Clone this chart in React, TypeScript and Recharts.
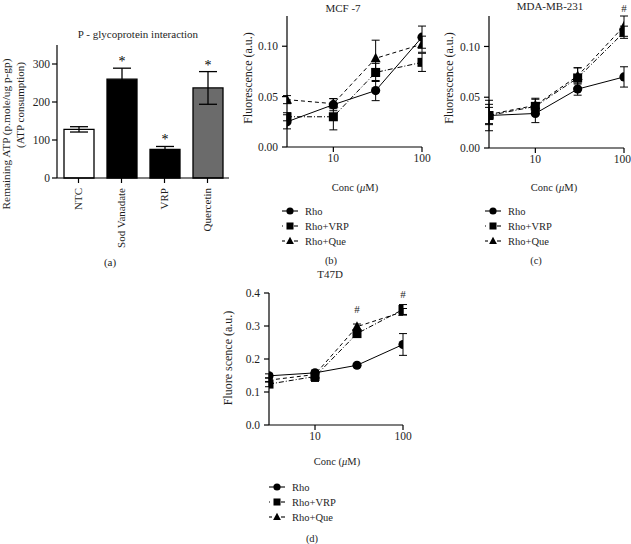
import React from 'react'
import {
  BarChart, Bar, Cell, LineChart, Line, XAxis, YAxis, ErrorBar, LabelList,
} from 'recharts'

// ---- panel (a) data ----
const barCategories = ['NTC', 'Sod Vanadate', 'VRP', 'Quercetin']
const atpMean = [128, 260, 75, 237]
const atpErr = [7, 29, 8, 43]
const atpSig = [false, true, true, true]

// ---- line panels data (conc in µM) ----
const conc = [3, 10, 30, 100]

const mcfRho = [0.025, 0.042, 0.056, 0.109]
const mcfRhoErr = [0.007, 0.006, 0.010, 0.011]
const mcfVrp = [0.030, 0.030, 0.074, 0.084]
const mcfVrpErr = [0.004, 0.013, 0.009, 0.009]
const mcfQue = [0.047, 0.043, 0.088, 0.102]
const mcfQueErr = [0.004, 0.005, 0.018, 0.008]
const mcfHash = [false, false, false, false]

const mdaRho = [0.032, 0.034, 0.058, 0.070]
const mdaRhoErr = [0.015, 0.009, 0.006, 0.010]
const mdaVrp = [0.032, 0.041, 0.069, 0.114]
const mdaVrpErr = [0.008, 0.008, 0.010, 0.006]
const mdaQue = [0.033, 0.042, 0.071, 0.120]
const mdaQueErr = [0.010, 0.006, 0.008, 0.010]
const mdaHash = [false, false, false, true]

const t47Rho = [0.149, 0.158, 0.181, 0.244]
const t47RhoErr = [0.006, 0.008, 0.005, 0.033]
const t47Vrp = [0.124, 0.147, 0.277, 0.350]
const t47VrpErr = [0.008, 0.015, 0.010, 0.015]
const t47Que = [0.136, 0.153, 0.298, 0.343]
const t47QueErr = [0.006, 0.010, 0.008, 0.010]
const t47Hash = [false, false, true, true]

const FONT = "'Liberation Serif', 'Times New Roman', serif"
const INK = '#1e1e1e'
const barFills = ['#ffffff', '#000000', '#000000', '#6b6b6b']

const series = [
  { key: 'rho', name: 'Rho', shape: 'circle', dash: undefined as string | undefined },
  { key: 'vrp', name: 'Rho+VRP', shape: 'square', dash: '5 2 1 2' },
  { key: 'que', name: 'Rho+Que', shape: 'triangle', dash: '4 3' },
]

function marker(shape: string, cx: number, cy: number, k?: any, s = 1) {
  if (shape === 'circle') return <circle key={k} cx={cx} cy={cy} r={4.6 * s} fill="#000" />
  if (shape === 'square') return <rect key={k} x={cx - 4.5 * s} y={cy - 4.5 * s} width={9 * s} height={9 * s} fill="#000" />
  return <path key={k} d={`M${cx},${cy - 5.5 * s} L${cx + 5 * s},${cy + 4 * s} L${cx - 5 * s},${cy + 4 * s} Z`} fill="#000" />
}

function makeRows(rho: number[], rhoErr: number[], vrp: number[], vrpErr: number[], que: number[], queErr: number[]) {
  return conc.map((c, i) => ({
    conc: c, rho: rho[i], rhoErr: rhoErr[i], vrp: vrp[i], vrpErr: vrpErr[i], que: que[i], queErr: queErr[i],
  }))
}

function Txt({ x, y, size = 11, rot = 0, children }: any) {
  return (
    <div style={{
      position: 'absolute', left: x, top: y, fontSize: size, color: INK, whiteSpace: 'nowrap', lineHeight: 1,
      transform: `translate(-50%, -50%) rotate(${rot}deg)`,
    }}>{children}</div>
  )
}

// little line stubs either side of the legend marker
const legendStubs: Record<string, [number, number][]> = {
  rho: [[-8, 8]],
  vrp: [[-8, -7], [4, 8]],
  que: [[-8, -5], [4, 8]],
}

function SeriesLegend({ x, y, textX }: { x: number; y: number; textX: number }) {
  return (
    <svg style={{ position: 'absolute', left: x - 12, top: y - 8, overflow: 'visible' }} width={100} height={46}>
      {series.map((s, i) => (
        <g key={s.key} transform={`translate(12, ${8 + i * 15})`}>
          {legendStubs[s.key].map(([a, b], j) => (
            <line key={j} x1={a} x2={b} y1={0} y2={0} stroke="#000" strokeWidth={1.1} />
          ))}
          {marker(s.shape, 0, 0, undefined, 0.78)}
          <text x={textX - x} y={0} dy="0.35em" fontSize={10.5} fill={INK} fontFamily={FONT}>{s.name}</text>
        </g>
      ))}
    </svg>
  )
}

// significance star above each bar's error cap (bar geometry comes from recharts)
const renderStar = (props: any) => {
  const { x, y, width, height, index } = props
  if (!atpSig[index]) return null
  const errPx = (atpErr[index] / atpMean[index]) * height
  return (
    <g key={`star-${index}`}>
      <text x={x + width / 2} y={y - errPx - 2} textAnchor="middle" fontSize={14} fill="#000"
        style={{ fill: '#000', stroke: 'none', fontFamily: FONT }}>*</text>
    </g>
  )
}

const hashLabel = (flags: boolean[], vals: number[]) => (props: any) => {
  const vb = props.viewBox || props
  const x = props.x ?? vb.x
  const y = props.y ?? vb.y
  const idx = props.index ?? vals.indexOf(props.value)
  if (!flags[idx]) return null
  return (
    <text x={x} y={y - 14} textAnchor="middle" fontSize={11}
      style={{ fill: INK, stroke: 'none', fontFamily: FONT }}>#</text>
  )
}

function CatTick({ x, y, payload }: any) {
  return (
    <text x={x} y={y} transform={`rotate(-90, ${x}, ${y})`} textAnchor="end" dy="0.35em" fontSize={11} fill={INK} fontFamily={FONT}>
      {payload.value}
    </text>
  )
}

const axisLine = { stroke: '#000', strokeWidth: 1.2 }
const tickStyle = { fontSize: 11.5, fill: INK, fontFamily: FONT }

function ConcChart({ rows, width, height, margin, yMax, yTicks, digits, hash, hashVals }: any) {
  return (
    <LineChart width={width} height={height} data={rows} margin={margin} style={{ overflow: 'visible' }}>
      <XAxis dataKey="conc" type="number" scale="log" domain={[3, 100]} ticks={[10, 100]} allowDataOverflow
        axisLine={axisLine} tickLine={axisLine} tickSize={5} tickMargin={2} tick={tickStyle} height={30} />
      <YAxis type="number" domain={[0, yMax]} ticks={yTicks} tickFormatter={(v: number) => v.toFixed(digits)}
        axisLine={axisLine} tickLine={axisLine} tickSize={5} tickMargin={4} tick={tickStyle} width={40} />
      {[...series].reverse().map(s => (
        <Line key={s.key} type="linear" dataKey={s.key} stroke="#000" strokeWidth={1} strokeDasharray={s.dash}
          isAnimationActive={false}
          dot={(p: any) => marker(s.shape, p.cx, p.cy, `${s.key}-${p.index}`)} activeDot={false}>
          <ErrorBar dataKey={`${s.key}Err`} direction="y" width={4} stroke="#000" strokeWidth={1} />
          {s.key === 'que' && <LabelList dataKey="que" content={hashLabel(hash, hashVals)} />}
        </Line>
      ))}
    </LineChart>
  )
}

export default function App() {
  const barRows = barCategories.map((c, i) => ({ cat: c, mean: atpMean[i], err: atpErr[i] }))
  const mcfRows = makeRows(mcfRho, mcfRhoErr, mcfVrp, mcfVrpErr, mcfQue, mcfQueErr)
  const mdaRows = makeRows(mdaRho, mdaRhoErr, mdaVrp, mdaVrpErr, mdaQue, mdaQueErr)
  const t47Rows = makeRows(t47Rho, t47RhoErr, t47Vrp, t47VrpErr, t47Que, t47QueErr)

  return (
    <div style={{ position: 'absolute', left: 0, top: 0, width: 631, height: 544, background: '#fff', fontFamily: FONT, overflow: 'hidden' }}>
      {/* (a) */}
      <div style={{ position: 'absolute', left: 0, top: 0 }}>
        <BarChart width={231} height={258} data={barRows} margin={{ top: 45, right: 2, left: 17, bottom: 0 }} barSize={30}>
          <XAxis dataKey="cat" interval={0} axisLine={axisLine} tickLine={axisLine} tickSize={5} tickMargin={5} height={80} tick={<CatTick />} />
          <YAxis type="number" domain={[0, 350]} ticks={[0, 100, 200, 300]} axisLine={axisLine} tickLine={axisLine}
            tickSize={5} tickMargin={2} tick={tickStyle} width={40} />
          <Bar dataKey="mean" fill="#000" stroke="#000" strokeWidth={1.3} isAnimationActive={false} label={renderStar}>
            {barRows.map((r, i) => <Cell key={r.cat} fill={barFills[i]} />)}
            <ErrorBar dataKey="err" direction="y" width={9} stroke="#000" strokeWidth={1.3} />
          </Bar>
        </BarChart>
      </div>
      <Txt x={138} y={34}>P - glycoprotein interaction</Txt>
      <Txt x={7} y={134} size={11.3} rot={-90}>Remaining ATP (p.mole/ug p-gp)</Txt>
      <Txt x={20} y={105} size={11} rot={-90}>(ATP consumption)</Txt>
      <Txt x={110} y={262}>(a)</Txt>

      {/* (b) MCF-7 */}
      <div style={{ position: 'absolute', left: 210, top: 0 }}>
        <ConcChart rows={mcfRows} width={222} height={182} margin={{ top: 16, right: 10, left: 37, bottom: 5 }}
          yMax={0.13} yTicks={[0, 0.05, 0.1]} digits={2} hash={mcfHash} hashVals={mcfQue} />
      </div>
      <Txt x={343} y={8}>MCF -7</Txt>
      <Txt x={248} y={78} size={12} rot={-90}>Fluorescence (a.u.)</Txt>
      <Txt x={355} y={188} size={10.5}>Conc (<i>μ</i>M)</Txt>
      <SeriesLegend x={290} y={211} textX={305} />
      <Txt x={331} y={261} size={10.5}>(b)</Txt>

      {/* (c) MDA-MB-231 */}
      <div style={{ position: 'absolute', left: 420, top: 0 }}>
        <ConcChart rows={mdaRows} width={211} height={183} margin={{ top: 16, right: 7, left: 29, bottom: 5 }}
          yMax={0.13} yTicks={[0, 0.05, 0.1]} digits={2} hash={mdaHash} hashVals={mdaQue} />
      </div>
      <Txt x={550} y={6}>MDA-MB-231</Txt>
      <Txt x={449} y={78} size={12} rot={-90}>Fluorescence (a.u.)</Txt>
      <Txt x={554} y={188} size={10.5}>Conc (<i>μ</i>M)</Txt>
      <SeriesLegend x={493} y={211} textX={508} />
      <Txt x={536} y={261} size={10.5}>(c)</Txt>

      {/* (d) T47D */}
      <div style={{ position: 'absolute', left: 200, top: 280 }}>
        <ConcChart rows={t47Rows} width={218} height={180} margin={{ top: 13, right: 15, left: 29, bottom: 5 }}
          yMax={0.4} yTicks={[0, 0.1, 0.2, 0.3, 0.4]} digits={1} hash={t47Hash} hashVals={t47Que} />
      </div>
      <Txt x={330} y={274}>T47D</Txt>
      <Txt x={228} y={358} size={12} rot={-90}>Fluore scence (a.u.)</Txt>
      <Txt x={337} y={462} size={10.5}>Conc (<i>μ</i>M)</Txt>
      <SeriesLegend x={277} y={487} textX={292} />
      <Txt x={312} y={539} size={10.5}>(d)</Txt>
    </div>
  )
}
